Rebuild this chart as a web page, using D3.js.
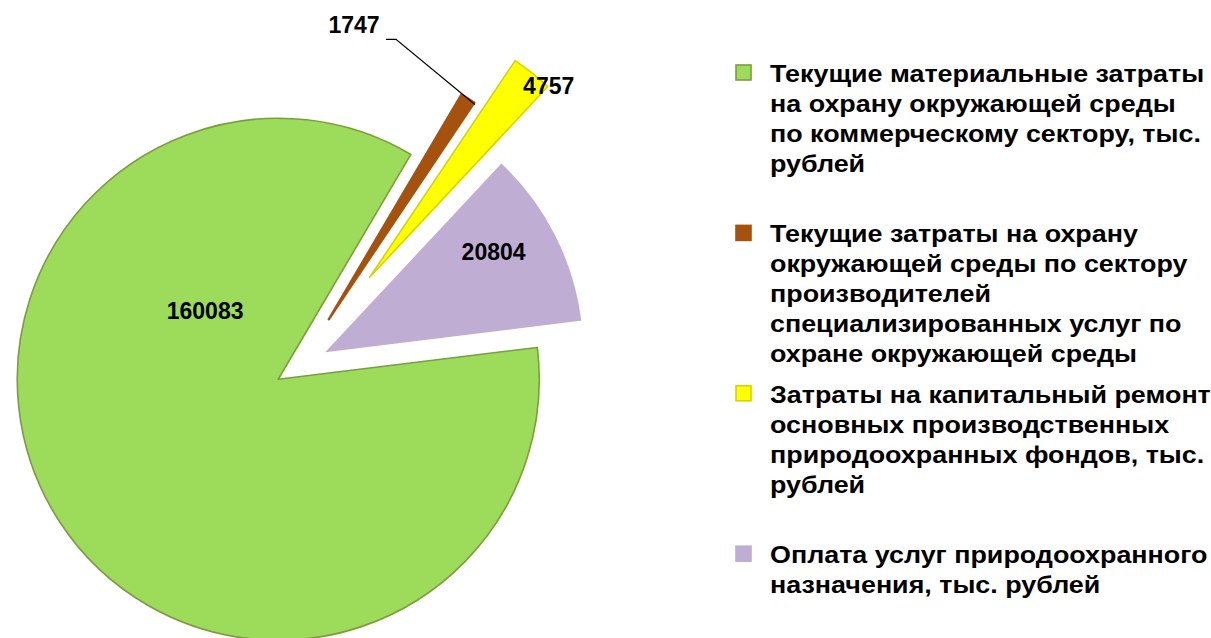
<!DOCTYPE html>
<html>
<head>
<meta charset="utf-8">
<script src="https://cdn.jsdelivr.net/npm/d3@7"></script>
<style>
    body { margin: 0; background: #ffffff; }
    text { font-family: Arial, "Liberation Sans", sans-serif; font-weight: bold; fill: #000000; }
</style>
</head>
<body>
<script>
(function(){

    //chart data
    var categories = [
        ["Текущие материальные затраты", "на охрану окружающей среды", "по коммерческому сектору, тыс.", "рублей"],
        ["Текущие затраты на охрану", "окружающей среды по сектору", "производителей", "специализированных услуг по", "охране окружающей среды"],
        ["Затраты на капитальный ремонт", "основных производственных", "природоохранных фондов, тыс.", "рублей"],
        ["Оплата услуг природоохранного", "назначения, тыс. рублей"]
    ];
    var values = [160083, 1747, 4757, 20804];
    var valueLabels = ["160083", "1747", "4757", "20804"];

    //styles
    var fills = ["#9ddc5a", "#a5520f", "#ffff00", "#bfadd4"];
    var strokes = ["#7d9c3e", "#a5520f", "#d4d400", "#ffffff"];

window.onload = setChart();

function setChart(){

    var width = 1211,
        height = 638;

    var svg = d3.select("body")
        .append("svg")
        .attr("width", width)
        .attr("height", height);

    //pie layout
    var cx = 300,
        cy = 365,
        radius = 261,
        startDeg = 83;

    //how far each slice is pulled out of the pie
    var explode = [26, 54, 112, 26];
    //label position relative to each slice centre: [angle in degrees, distance]
    var labelPolar = [[313, 100], [4.9, 295], [43.1, 262], [59.4, 198]];

    var pie = d3.pie()
        .sort(null)
        .startAngle(startDeg * Math.PI / 180)
        .endAngle(startDeg * Math.PI / 180 + 2 * Math.PI);

    var arc = d3.arc()
        .innerRadius(0)
        .outerRadius(radius);

    var slices = pie(values);

    //point at angle a (radians, clockwise from 12 o'clock) and distance d
    function polar(a, d){
        return [Math.sin(a) * d, -Math.cos(a) * d];
    };

    //offset of every slice centre
    slices.forEach(function(s, i){
        var mid = (s.startAngle + s.endAngle) / 2;
        var p = polar(mid, explode[i]);
        s.cx = cx + p[0];
        s.cy = cy + p[1];
        s.mid = mid;
    });

    //draw slices
    svg.selectAll(".slice")
        .data(slices)
        .enter()
        .append("path")
        .attr("class", "slice")
        .attr("transform", function(d){ return "translate(" + d.cx + "," + d.cy + ")"; })
        .attr("d", arc)
        .style("fill", function(d, i){ return fills[i]; })
        .style("stroke", function(d, i){ return strokes[i]; })
        .style("stroke-width", function(d, i){ return i == 1 ? 2.4 : 1.6; })
        .style("stroke-linejoin", "round");

    //label positions
    var labelPts = slices.map(function(s, i){
        var p = polar(labelPolar[i][0] * Math.PI / 180, labelPolar[i][1]);
        return [s.cx + p[0], s.cy + p[1]];
    });

    //leader line for the thin brown slice
    var tip = polar(slices[1].mid, radius);
    var tipX = slices[1].cx + tip[0] + 7,
        tipY = slices[1].cy + tip[1] + 6;
    svg.append("path")
        .attr("d", d3.line()([
            [labelPts[1][0] + 32, labelPts[1][1] + 14],
            [labelPts[1][0] + 42, labelPts[1][1] + 14],
            [tipX, tipY]
        ]))
        .style("fill", "none")
        .style("stroke", "#000000")
        .style("stroke-width", 1.2);

    //value labels
    svg.selectAll(".valLabel")
        .data(slices)
        .enter()
        .append("text")
        .attr("class", "valLabel")
        .attr("x", function(d, i){ return labelPts[i][0]; })
        .attr("y", function(d, i){ return labelPts[i][1]; })
        .attr("dy", "0.35em")
        .attr("text-anchor", "middle")
        .style("font-size", "23px")
        .text(function(d, i){ return valueLabels[i]; });

    setLegend(svg);
}; //end of setChart()

function setLegend(svg){
    var legendX = 736,
        textX = 770,
        firstY = 82,
        itemStep = 160.4,
        lineStep = 30,
        stretch = 1.12; //legend text is a bit wider than plain Arial

    var items = svg.selectAll(".legendItem")
        .data(categories)
        .enter()
        .append("g")
        .attr("class", "legendItem")
        .attr("transform", function(d, i){ return "translate(0," + (firstY + i * itemStep) + ")"; });

    items.append("rect")
        .attr("x", legendX)
        .attr("y", -17)
        .attr("width", 15)
        .attr("height", 15)
        .style("fill", function(d, i){ return fills[i]; })
        .style("stroke", function(d, i){ return i == 3 ? fills[i] : strokes[i]; })
        .style("stroke-width", 1.6);

    items.each(function(lines){
        var g = d3.select(this)
            .append("g")
            .attr("transform", "translate(" + textX + ",0) scale(" + stretch + ",1)");
        lines.forEach(function(line, j){
            g.append("text")
                .attr("x", 0)
                .attr("y", j * lineStep)
                .style("font-size", "24px")
                .text(line);
        });
    });
};

})();
</script>
</body>
</html>
